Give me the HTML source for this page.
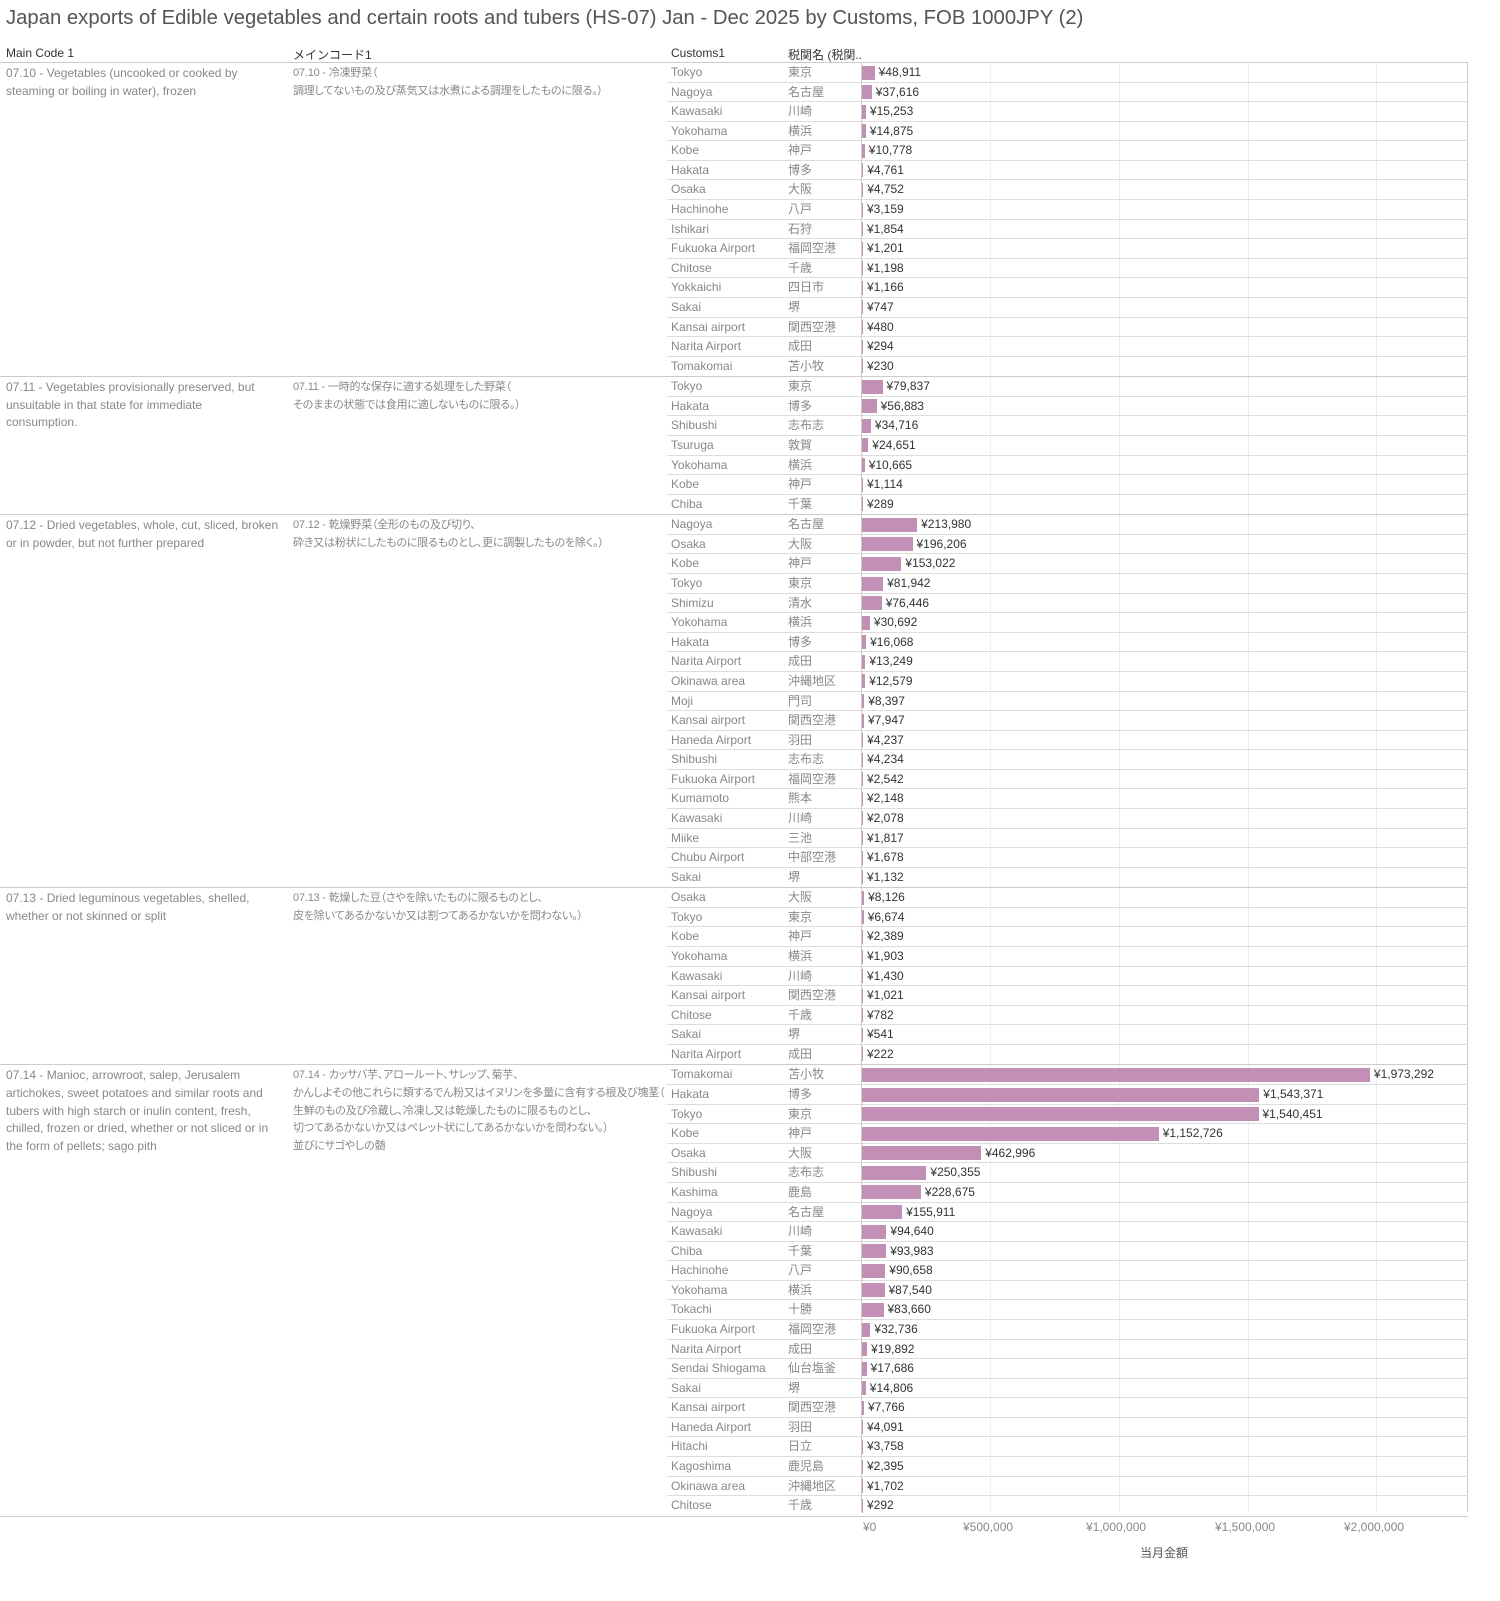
<!DOCTYPE html>
<html><head><meta charset="utf-8"><style>
body{margin:0;width:1500px;height:1601px;background:#fff;font-family:"Liberation Sans","Noto Sans CJK JP",sans-serif;position:relative;overflow:hidden}
.t{position:absolute;left:6px;top:7px;font-size:20.3px;color:#555;white-space:nowrap}
.h{position:absolute;top:46px;font-size:12px;color:#333;white-space:nowrap}
#wrap{position:absolute;left:0;top:62px;width:1468px;border-top:1px solid #ccc;box-sizing:border-box}
.sec{position:relative;border-bottom:1px solid #ccc;box-sizing:border-box}
.c1,.c2{position:absolute;top:2px;font-size:12px;line-height:17.6px;color:#888;white-space:nowrap}
.c1{left:6px}.c2{left:293px;font-size:11px;font-feature-settings:"palt";letter-spacing:-0.2px}
.rows{margin-left:667px}
.r{height:19.59px;border-bottom:1px solid #ddd;box-sizing:border-box;position:relative;font-size:12px;color:#888;line-height:19px;white-space:nowrap}
.r:last-child{border-bottom:none}
.r .a{position:absolute;left:4px}
.r .b{position:absolute;left:121px}
.r .v{position:absolute;left:195px;top:2px;height:15px;display:flex;align-items:center}
.r .v i{display:inline-block;height:14px;background:#c28fb5;min-width:1px}
.r .v span{margin-left:4px;color:#333;font-size:12px}
.vl{position:absolute;top:62px;height:1450px;width:1px;background:#ccc}
.gl{position:absolute;top:62px;height:1450px;width:1px;background:#eee}
.ax{position:absolute;top:1520px;font-size:12px;color:#888}
</style></head><body>
<div class="t">Japan exports of Edible vegetables and certain roots and tubers (HS-07) Jan - Dec 2025 by Customs, FOB 1000JPY (2)</div>
<div class="h" style="left:6px">Main Code 1</div>
<div class="h" style="left:293px">メインコード1</div>
<div class="h" style="left:671px">Customs1</div>
<div class="h" style="left:788px">税関名 (税関..</div>
<div class="gl" style="left:990px"></div><div class="gl" style="left:1119px"></div><div class="gl" style="left:1248px"></div><div class="gl" style="left:1376px"></div>
<div class="vl" style="left:1467px"></div>
<div id="wrap">
<div class="sec"><div class="c1">07.10 - Vegetables (uncooked or cooked by<br>steaming or boiling in water), frozen</div><div class="c2">07.10 - 冷凍野菜（<br>調理してないもの及び蒸気又は水煮による調理をしたものに限る。）</div><div class="rows">
<div class="r"><span class="a">Tokyo</span><span class="b">東京</span><span class="v"><i style="width:12.6px"></i><span>¥48,911</span></span></div>
<div class="r"><span class="a">Nagoya</span><span class="b">名古屋</span><span class="v"><i style="width:9.7px"></i><span>¥37,616</span></span></div>
<div class="r"><span class="a">Kawasaki</span><span class="b">川崎</span><span class="v"><i style="width:3.9px"></i><span>¥15,253</span></span></div>
<div class="r"><span class="a">Yokohama</span><span class="b">横浜</span><span class="v"><i style="width:3.8px"></i><span>¥14,875</span></span></div>
<div class="r"><span class="a">Kobe</span><span class="b">神戸</span><span class="v"><i style="width:2.8px"></i><span>¥10,778</span></span></div>
<div class="r"><span class="a">Hakata</span><span class="b">博多</span><span class="v"><i style="width:1.2px"></i><span>¥4,761</span></span></div>
<div class="r"><span class="a">Osaka</span><span class="b">大阪</span><span class="v"><i style="width:1.2px"></i><span>¥4,752</span></span></div>
<div class="r"><span class="a">Hachinohe</span><span class="b">八戸</span><span class="v"><i style="width:1px"></i><span>¥3,159</span></span></div>
<div class="r"><span class="a">Ishikari</span><span class="b">石狩</span><span class="v"><i style="width:1px"></i><span>¥1,854</span></span></div>
<div class="r"><span class="a">Fukuoka Airport</span><span class="b">福岡空港</span><span class="v"><i style="width:1px"></i><span>¥1,201</span></span></div>
<div class="r"><span class="a">Chitose</span><span class="b">千歳</span><span class="v"><i style="width:1px"></i><span>¥1,198</span></span></div>
<div class="r"><span class="a">Yokkaichi</span><span class="b">四日市</span><span class="v"><i style="width:1px"></i><span>¥1,166</span></span></div>
<div class="r"><span class="a">Sakai</span><span class="b">堺</span><span class="v"><i style="width:1px"></i><span>¥747</span></span></div>
<div class="r"><span class="a">Kansai airport</span><span class="b">関西空港</span><span class="v"><i style="width:1px"></i><span>¥480</span></span></div>
<div class="r"><span class="a">Narita Airport</span><span class="b">成田</span><span class="v"><i style="width:1px"></i><span>¥294</span></span></div>
<div class="r"><span class="a">Tomakomai</span><span class="b">苫小牧</span><span class="v"><i style="width:1px"></i><span>¥230</span></span></div>
</div></div>
<div class="sec"><div class="c1">07.11 - Vegetables provisionally preserved, but<br>unsuitable in that state for immediate<br>consumption.</div><div class="c2">07.11 - 一時的な保存に適する処理をした野菜（<br>そのままの状態では食用に適しないものに限る。）</div><div class="rows">
<div class="r"><span class="a">Tokyo</span><span class="b">東京</span><span class="v"><i style="width:20.5px"></i><span>¥79,837</span></span></div>
<div class="r"><span class="a">Hakata</span><span class="b">博多</span><span class="v"><i style="width:14.6px"></i><span>¥56,883</span></span></div>
<div class="r"><span class="a">Shibushi</span><span class="b">志布志</span><span class="v"><i style="width:8.9px"></i><span>¥34,716</span></span></div>
<div class="r"><span class="a">Tsuruga</span><span class="b">敦賀</span><span class="v"><i style="width:6.3px"></i><span>¥24,651</span></span></div>
<div class="r"><span class="a">Yokohama</span><span class="b">横浜</span><span class="v"><i style="width:2.7px"></i><span>¥10,665</span></span></div>
<div class="r"><span class="a">Kobe</span><span class="b">神戸</span><span class="v"><i style="width:1px"></i><span>¥1,114</span></span></div>
<div class="r"><span class="a">Chiba</span><span class="b">千葉</span><span class="v"><i style="width:1px"></i><span>¥289</span></span></div>
</div></div>
<div class="sec"><div class="c1">07.12 - Dried vegetables, whole, cut, sliced, broken<br>or in powder, but not further prepared</div><div class="c2">07.12 - 乾燥野菜（全形のもの及び切り、<br>砕き又は粉状にしたものに限るものとし、更に調製したものを除く。）</div><div class="rows">
<div class="r"><span class="a">Nagoya</span><span class="b">名古屋</span><span class="v"><i style="width:55.1px"></i><span>¥213,980</span></span></div>
<div class="r"><span class="a">Osaka</span><span class="b">大阪</span><span class="v"><i style="width:50.5px"></i><span>¥196,206</span></span></div>
<div class="r"><span class="a">Kobe</span><span class="b">神戸</span><span class="v"><i style="width:39.4px"></i><span>¥153,022</span></span></div>
<div class="r"><span class="a">Tokyo</span><span class="b">東京</span><span class="v"><i style="width:21.1px"></i><span>¥81,942</span></span></div>
<div class="r"><span class="a">Shimizu</span><span class="b">清水</span><span class="v"><i style="width:19.7px"></i><span>¥76,446</span></span></div>
<div class="r"><span class="a">Yokohama</span><span class="b">横浜</span><span class="v"><i style="width:7.9px"></i><span>¥30,692</span></span></div>
<div class="r"><span class="a">Hakata</span><span class="b">博多</span><span class="v"><i style="width:4.1px"></i><span>¥16,068</span></span></div>
<div class="r"><span class="a">Narita Airport</span><span class="b">成田</span><span class="v"><i style="width:3.4px"></i><span>¥13,249</span></span></div>
<div class="r"><span class="a">Okinawa area</span><span class="b">沖縄地区</span><span class="v"><i style="width:3.2px"></i><span>¥12,579</span></span></div>
<div class="r"><span class="a">Moji</span><span class="b">門司</span><span class="v"><i style="width:2.2px"></i><span>¥8,397</span></span></div>
<div class="r"><span class="a">Kansai airport</span><span class="b">関西空港</span><span class="v"><i style="width:2px"></i><span>¥7,947</span></span></div>
<div class="r"><span class="a">Haneda Airport</span><span class="b">羽田</span><span class="v"><i style="width:1.1px"></i><span>¥4,237</span></span></div>
<div class="r"><span class="a">Shibushi</span><span class="b">志布志</span><span class="v"><i style="width:1.1px"></i><span>¥4,234</span></span></div>
<div class="r"><span class="a">Fukuoka Airport</span><span class="b">福岡空港</span><span class="v"><i style="width:1px"></i><span>¥2,542</span></span></div>
<div class="r"><span class="a">Kumamoto</span><span class="b">熊本</span><span class="v"><i style="width:1px"></i><span>¥2,148</span></span></div>
<div class="r"><span class="a">Kawasaki</span><span class="b">川崎</span><span class="v"><i style="width:1px"></i><span>¥2,078</span></span></div>
<div class="r"><span class="a">Miike</span><span class="b">三池</span><span class="v"><i style="width:1px"></i><span>¥1,817</span></span></div>
<div class="r"><span class="a">Chubu Airport</span><span class="b">中部空港</span><span class="v"><i style="width:1px"></i><span>¥1,678</span></span></div>
<div class="r"><span class="a">Sakai</span><span class="b">堺</span><span class="v"><i style="width:1px"></i><span>¥1,132</span></span></div>
</div></div>
<div class="sec"><div class="c1">07.13 - Dried leguminous vegetables, shelled,<br>whether or not skinned or split</div><div class="c2">07.13 - 乾燥した豆（さやを除いたものに限るものとし、<br>皮を除いてあるかないか又は割つてあるかないかを問わない。）</div><div class="rows">
<div class="r"><span class="a">Osaka</span><span class="b">大阪</span><span class="v"><i style="width:2.1px"></i><span>¥8,126</span></span></div>
<div class="r"><span class="a">Tokyo</span><span class="b">東京</span><span class="v"><i style="width:1.7px"></i><span>¥6,674</span></span></div>
<div class="r"><span class="a">Kobe</span><span class="b">神戸</span><span class="v"><i style="width:1px"></i><span>¥2,389</span></span></div>
<div class="r"><span class="a">Yokohama</span><span class="b">横浜</span><span class="v"><i style="width:1px"></i><span>¥1,903</span></span></div>
<div class="r"><span class="a">Kawasaki</span><span class="b">川崎</span><span class="v"><i style="width:1px"></i><span>¥1,430</span></span></div>
<div class="r"><span class="a">Kansai airport</span><span class="b">関西空港</span><span class="v"><i style="width:1px"></i><span>¥1,021</span></span></div>
<div class="r"><span class="a">Chitose</span><span class="b">千歳</span><span class="v"><i style="width:1px"></i><span>¥782</span></span></div>
<div class="r"><span class="a">Sakai</span><span class="b">堺</span><span class="v"><i style="width:1px"></i><span>¥541</span></span></div>
<div class="r"><span class="a">Narita Airport</span><span class="b">成田</span><span class="v"><i style="width:1px"></i><span>¥222</span></span></div>
</div></div>
<div class="sec"><div class="c1">07.14 - Manioc, arrowroot, salep, Jerusalem<br>artichokes, sweet potatoes and similar roots and<br>tubers with high starch or inulin content, fresh,<br>chilled, frozen or dried, whether or not sliced or in<br>the form of pellets; sago pith</div><div class="c2">07.14 - カッサバ芋、アロールート、サレップ、菊芋、<br>かんしよその他これらに類するでん粉又はイヌリンを多量に含有する根及び塊茎（<br>生鮮のもの及び冷蔵し、冷凍し又は乾燥したものに限るものとし、<br>切つてあるかないか又はペレット状にしてあるかないかを問わない。）<br>並びにサゴやしの髄</div><div class="rows">
<div class="r"><span class="a">Tomakomai</span><span class="b">苫小牧</span><span class="v"><i style="width:507.9px"></i><span>¥1,973,292</span></span></div>
<div class="r"><span class="a">Hakata</span><span class="b">博多</span><span class="v"><i style="width:397.3px"></i><span>¥1,543,371</span></span></div>
<div class="r"><span class="a">Tokyo</span><span class="b">東京</span><span class="v"><i style="width:396.5px"></i><span>¥1,540,451</span></span></div>
<div class="r"><span class="a">Kobe</span><span class="b">神戸</span><span class="v"><i style="width:296.7px"></i><span>¥1,152,726</span></span></div>
<div class="r"><span class="a">Osaka</span><span class="b">大阪</span><span class="v"><i style="width:119.2px"></i><span>¥462,996</span></span></div>
<div class="r"><span class="a">Shibushi</span><span class="b">志布志</span><span class="v"><i style="width:64.4px"></i><span>¥250,355</span></span></div>
<div class="r"><span class="a">Kashima</span><span class="b">鹿島</span><span class="v"><i style="width:58.9px"></i><span>¥228,675</span></span></div>
<div class="r"><span class="a">Nagoya</span><span class="b">名古屋</span><span class="v"><i style="width:40.1px"></i><span>¥155,911</span></span></div>
<div class="r"><span class="a">Kawasaki</span><span class="b">川崎</span><span class="v"><i style="width:24.4px"></i><span>¥94,640</span></span></div>
<div class="r"><span class="a">Chiba</span><span class="b">千葉</span><span class="v"><i style="width:24.2px"></i><span>¥93,983</span></span></div>
<div class="r"><span class="a">Hachinohe</span><span class="b">八戸</span><span class="v"><i style="width:23.3px"></i><span>¥90,658</span></span></div>
<div class="r"><span class="a">Yokohama</span><span class="b">横浜</span><span class="v"><i style="width:22.5px"></i><span>¥87,540</span></span></div>
<div class="r"><span class="a">Tokachi</span><span class="b">十勝</span><span class="v"><i style="width:21.5px"></i><span>¥83,660</span></span></div>
<div class="r"><span class="a">Fukuoka Airport</span><span class="b">福岡空港</span><span class="v"><i style="width:8.4px"></i><span>¥32,736</span></span></div>
<div class="r"><span class="a">Narita Airport</span><span class="b">成田</span><span class="v"><i style="width:5.1px"></i><span>¥19,892</span></span></div>
<div class="r"><span class="a">Sendai Shiogama</span><span class="b">仙台塩釜</span><span class="v"><i style="width:4.6px"></i><span>¥17,686</span></span></div>
<div class="r"><span class="a">Sakai</span><span class="b">堺</span><span class="v"><i style="width:3.8px"></i><span>¥14,806</span></span></div>
<div class="r"><span class="a">Kansai airport</span><span class="b">関西空港</span><span class="v"><i style="width:2px"></i><span>¥7,766</span></span></div>
<div class="r"><span class="a">Haneda Airport</span><span class="b">羽田</span><span class="v"><i style="width:1px"></i><span>¥4,091</span></span></div>
<div class="r"><span class="a">Hitachi</span><span class="b">日立</span><span class="v"><i style="width:1px"></i><span>¥3,758</span></span></div>
<div class="r"><span class="a">Kagoshima</span><span class="b">鹿児島</span><span class="v"><i style="width:1px"></i><span>¥2,395</span></span></div>
<div class="r"><span class="a">Okinawa area</span><span class="b">沖縄地区</span><span class="v"><i style="width:1px"></i><span>¥1,702</span></span></div>
<div class="r"><span class="a">Chitose</span><span class="b">千歳</span><span class="v"><i style="width:1px"></i><span>¥292</span></span></div>
</div></div>
</div>
<div class="vl" style="left:861px"></div>
<div class="ax" style="left:863px">¥0</div>
<div class="ax" style="left:963px">¥500,000</div>
<div class="ax" style="left:1086px">¥1,000,000</div>
<div class="ax" style="left:1215px">¥1,500,000</div>
<div class="ax" style="left:1344px">¥2,000,000</div>
<div class="ax" style="left:1140px;top:1544px;color:#555">当月金額</div>
</body></html>
